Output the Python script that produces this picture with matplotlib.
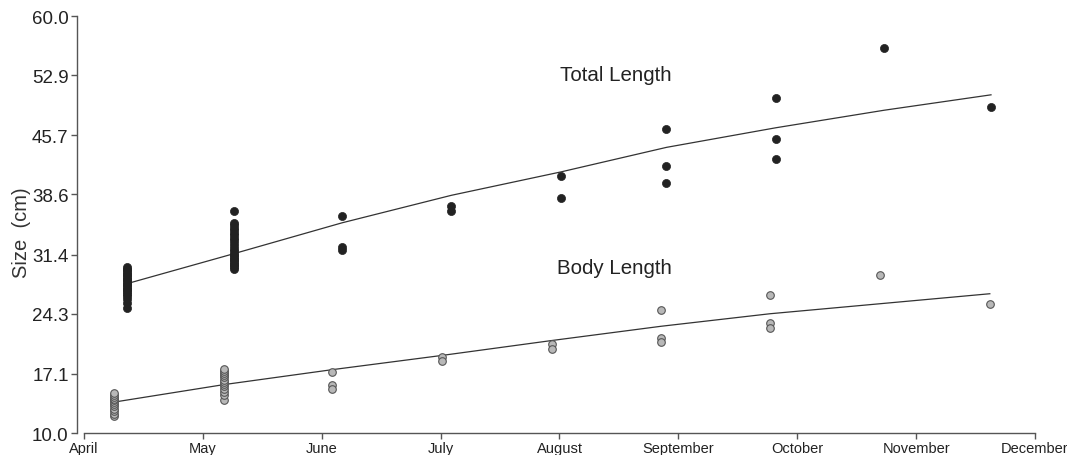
import numpy as np
import matplotlib
matplotlib.use("Agg")
import matplotlib.pyplot as plt

plt.rcParams['font.family'] = ['Liberation Sans', 'DejaVu Sans']

# Meses del eje x (posiciones 0..8)
meses = ['April', 'May', 'June', 'July', 'August', 'September', 'October', 'November', 'December']
yticks = [10.0, 17.1, 24.3, 31.4, 38.6, 45.7, 52.9, 60.0]

# Fechas de muestreo (en meses desde el 1 de abril)
x_total = [0.36, 1.26, 2.17, 3.09, 4.01, 4.90, 5.82, 6.73, 7.63]
x_body = [0.25, 1.175, 2.09, 3.01, 3.94, 4.855, 5.77, 6.695, 7.62]

# Longitud total observada por fecha
total_obs = [
    [25.0, 25.55, 26.1, 26.4, 26.7, 26.9, 27.1, 27.3, 27.5, 27.7, 27.9, 28.1,
     28.3, 28.5, 28.7, 28.9, 29.1, 29.3, 29.5, 29.7, 29.85],
    [29.7, 29.9, 30.1, 30.3, 30.5, 30.7, 30.9, 31.1, 31.3, 31.5, 31.8, 32.1,
     32.4, 32.8, 33.1, 33.4, 33.7, 34.0, 34.3, 34.6, 34.9, 35.2, 36.6],
    [36.05, 32.3, 32.0],
    [37.25, 36.6],
    [40.85, 38.2],
    [46.4, 42.0, 40.0],
    [50.2, 45.3, 42.9],
    [56.2],
    [49.05],
]
# Longitud del cuerpo observada por fecha
body_obs = [
    [12.0, 12.3, 12.6, 12.9, 13.2, 13.5, 13.7, 13.9, 14.1, 14.35, 14.6, 14.85],
    [14.0, 14.5, 14.9, 15.3, 15.6, 15.9, 16.1, 16.4, 16.7, 16.9, 17.2, 17.45, 17.7],
    [17.35, 15.8, 15.3],
    [19.1, 18.6],
    [20.7, 20.1],
    [24.7, 21.35, 20.95],
    [26.6, 23.2, 22.55],
    [29.0],
    [25.45],
]

# Curvas ajustadas
total_fit = [27.9, 31.5, 35.2, 38.5, 41.3, 44.25, 46.6, 48.7, 50.55]
body_fit = [13.7, 15.8, 17.6, 19.3, 21.1, 22.8, 24.3, 25.5, 26.7]

fig = plt.figure(figsize=(10.67, 4.56), dpi=100)
ax = fig.add_axes([0.0787, 0.0482, 0.8913, 0.9145])

for xv, vals in zip(x_total, total_obs):
    ax.scatter([xv] * len(vals), vals, s=34, color='#222222', edgecolors='#222222',
               linewidths=0.5, zorder=3)
for xv, vals in zip(x_body, body_obs):
    ax.scatter([xv] * len(vals), vals, s=30, color='#b8b8b8', edgecolors='#555555',
               linewidths=0.8, zorder=3)

ax.plot(x_total, total_fit, color='#333333', lw=0.9, zorder=2)
ax.plot(x_body, body_fit, color='#333333', lw=0.9, zorder=2)

ax.text(4.47, 53.0, 'Total Length', fontsize=14.8, color='#222222', ha='center', va='center')
ax.text(4.46, 29.8, 'Body Length', fontsize=14.8, color='#222222', ha='center', va='center')

ax.set_xlim(0, 8)
ax.set_ylim(10, 60)
ax.set_xticks(range(len(meses)))
ax.set_xticklabels(meses)
ax.set_yticks(yticks)
ax.set_yticklabels(['%.1f' % v for v in yticks])

for s in ['top', 'right']:
    ax.spines[s].set_visible(False)
ax.spines['left'].set_position(('outward', 5))
for s in ['left', 'bottom']:
    ax.spines[s].set_color('#555555')
    ax.spines[s].set_linewidth(1.0)
ax.tick_params(axis='both', colors='#555555', length=4, width=1.0, labelcolor='#222222')
ax.tick_params(axis='x', pad=2, labelsize=10.5)
ax.tick_params(axis='y', pad=2, labelsize=13.5)

ax.set_ylabel('Size  (cm)', fontsize=14.5, color='#333333')
ax.yaxis.set_label_coords(-0.056, 0.482)

fig.savefig('out.png', dpi=100)
